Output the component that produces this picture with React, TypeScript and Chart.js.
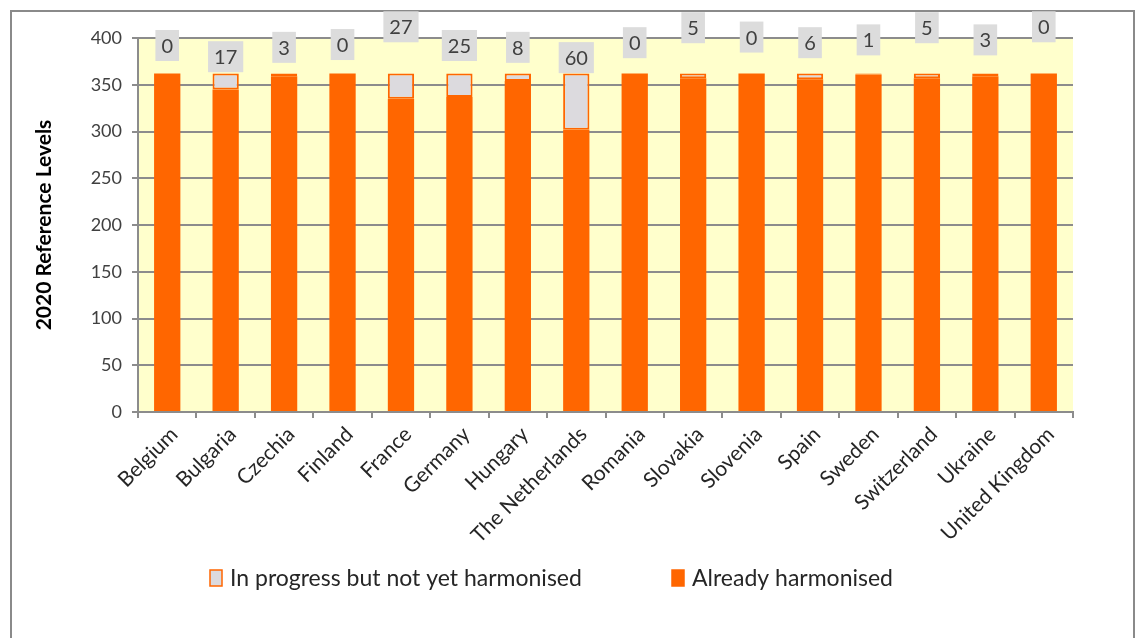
import React, { useEffect, useRef } from "react";
import { Chart, registerables } from "chart.js";

Chart.register(...registerables);

const categories = [
  "Belgium", "Bulgaria", "Czechia", "Finland", "France", "Germany", "Hungary",
  "The Netherlands", "Romania", "Slovakia", "Slovenia", "Spain", "Sweden",
  "Switzerland", "Ukraine", "United Kingdom",
];
const alreadyHarmonised = [362, 345, 359, 362, 335, 337, 354, 302, 362, 357, 362, 356, 361, 357, 359, 362];
const inProgress = [0, 17, 3, 0, 27, 25, 8, 60, 0, 5, 0, 6, 1, 5, 3, 0];
// value-axis position of each callout label (as placed in the source chart)
const labelLevels = [392, 380, 390, 393, 412, 392, 390, 379, 395, 411, 401, 395, 398, 411, 398, 412];
const yTicks = [0, 50, 100, 150, 200, 250, 300, 350, 400];
const seriesNames = ["In progress but not yet harmonised", "Already harmonised"];
const yTitle = "2020 Reference Levels";

const ORANGE = "#FF6600";
const GREY = "#DCDADE";
const FONT = "Lato, 'Noto Sans', sans-serif";

const decorPlugin = {
  id: "decor",
  beforeDraw(chart: any) {
    const { ctx, chartArea } = chart;
    ctx.save();
    ctx.fillStyle = "#ffffff";
    ctx.fillRect(0, 0, chart.width, chart.height);
    ctx.strokeStyle = "#8a8a8a";
    ctx.lineWidth = 2;
    ctx.strokeRect(11, 11, 1123, 700);
    ctx.fillStyle = "#FFFFCC";
    ctx.fillRect(chartArea.left, chartArea.top, chartArea.right - chartArea.left, chartArea.bottom - chartArea.top);
    ctx.restore();
  },
  afterDraw(chart: any) {
    const { ctx } = chart;
    const xs = chart.scales.x;
    const ys = chart.scales.y;
    ctx.save();
    ctx.font = `20px ${FONT}`;
    ctx.textAlign = "center";
    ctx.textBaseline = "middle";
    inProgress.forEach((v, i) => {
      const x = xs.getPixelForValue(i);
      const y = ys.getPixelForValue(labelLevels[i]);
      const t = String(v);
      const w = ctx.measureText(t).width + 12;
      const h = 31;
      ctx.fillStyle = "#DCDCDC";
      ctx.fillRect(x - w / 2, y - h / 2, w, h);
      ctx.fillStyle = "#404040";
      ctx.fillText(t, x, y + 1);
    });
    // legend
    const ly = 578;
    const items = [
      { x: 210, fill: GREY, stroke: ORANGE, label: seriesNames[0] },
      { x: 672, fill: ORANGE, stroke: ORANGE, label: seriesNames[1] },
    ];
    ctx.font = `23px ${FONT}`;
    ctx.textAlign = "left";
    items.forEach((it) => {
      ctx.fillStyle = it.fill;
      ctx.fillRect(it.x, ly - 8, 12, 16);
      ctx.strokeStyle = it.stroke;
      ctx.lineWidth = 1.5;
      ctx.strokeRect(it.x, ly - 8, 12, 16);
      ctx.fillStyle = "#262626";
      ctx.fillText(it.label, it.x + 20, ly + 1);
    });
    ctx.restore();
  },
};

export default function App() {
  const ref = useRef<HTMLCanvasElement>(null);
  useEffect(() => {
    if (!ref.current) return;
    const chart = new Chart(ref.current, {
      type: "bar",
      data: {
        labels: categories,
        datasets: [
          {
            label: seriesNames[1],
            data: alreadyHarmonised,
            backgroundColor: ORANGE,
            borderWidth: 0,
            barPercentage: 0.45,
            categoryPercentage: 1,
            stack: "s",
          },
          {
            label: seriesNames[0],
            data: inProgress,
            backgroundColor: GREY,
            borderColor: ORANGE,
            borderWidth: 2,
            borderSkipped: false,
            barPercentage: 0.45,
            categoryPercentage: 1,
            stack: "s",
          },
        ],
      },
      options: {
        responsive: false,
        animation: false,
        layout: { padding: { top: 38, right: 65, left: 0, bottom: 0 } },
        plugins: { legend: { display: false }, tooltip: { enabled: false } },
        scales: {
          x: {
            stacked: true,
            afterFit: (s: any) => { s.height = 226; },
            grid: { display: true, drawOnChartArea: false, drawTicks: true, tickLength: 6, color: "#8c8c8c", lineWidth: 2 },
            border: { display: true, color: "#8c8c8c", width: 2 },
            ticks: {
              minRotation: 45, maxRotation: 45, autoSkip: false, padding: 4, labelOffset: 7,
              color: "#262626", font: { family: FONT, size: 21 },
            },
          },
          y: {
            stacked: true,
            min: 0,
            max: 400,
            afterFit: (s: any) => { s.width = 138; },
            afterBuildTicks: (s: any) => { s.ticks = yTicks.map((v) => ({ value: v })); },
            grid: { color: "#8c8c8c", lineWidth: 2, tickLength: 6, drawTicks: true },
            border: { display: true, color: "#8c8c8c", width: 2 },
            ticks: { padding: 10, color: "#404040", font: { family: FONT, size: 18 } },
            title: {
              display: true, text: yTitle, color: "#000000",
              font: { family: FONT, size: 21, weight: "bold" },
              padding: { top: 32, bottom: 0 },
            },
          },
        },
      },
      plugins: [decorPlugin],
    });
    return () => chart.destroy();
  }, []);
  return (
    <div style={{ position: "absolute", left: 0, top: 0, width: 1138, height: 638, background: "#fff" }}>
      <canvas ref={ref} width={1138} height={638} style={{ width: 1138, height: 638, display: "block" }} />
    </div>
  );
}
